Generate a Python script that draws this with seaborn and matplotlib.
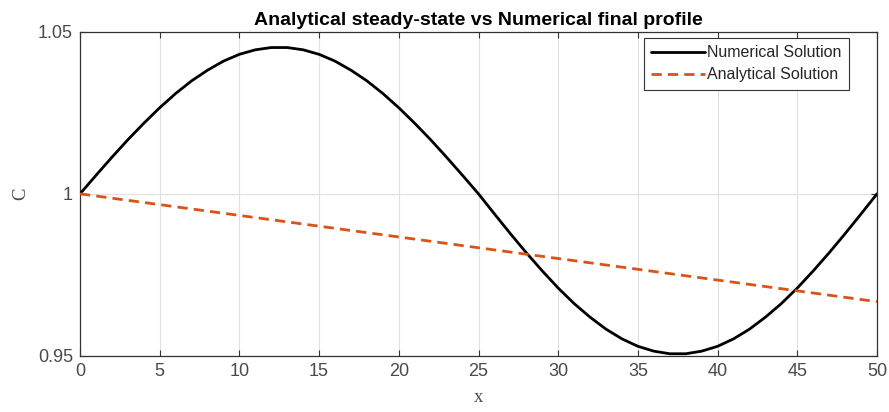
import numpy as np
import pandas as pd
import matplotlib
matplotlib.use("Agg")
import matplotlib.pyplot as plt
import seaborn as sns

# ---- data ----
x_num = list(range(0, 51))
c_num = [1.0000, 1.0057, 1.0113, 1.0167, 1.0218, 1.0266, 1.0310, 1.0349, 1.0382, 1.0410,
         1.0431, 1.0445, 1.0452, 1.0452, 1.0445, 1.0431, 1.0410, 1.0382, 1.0349, 1.0310,
         1.0266, 1.0218, 1.0167, 1.0113, 1.0057, 1.0000, 0.9938, 0.9877, 0.9818, 0.9762,
         0.9709, 0.9661, 0.9619, 0.9582, 0.9552, 0.9529, 0.9514, 0.9506, 0.9506, 0.9514,
         0.9529, 0.9552, 0.9582, 0.9619, 0.9661, 0.9709, 0.9762, 0.9818, 0.9877, 0.9938,
         1.0000]
x_ana = [0, 50]
c_ana = [1.0000, 0.9667]

x_ticks = [0, 5, 10, 15, 20, 25, 30, 35, 40, 45, 50]
y_ticks = [0.95, 1.0, 1.05]
y_tick_labels = ["0.95", "1", "1.05"]

title = "Analytical steady-state vs Numerical final profile"
series_names = ["Numerical Solution", "Analytical Solution"]

# ---- plotting ----
sns.set_theme(style="white")
plt.rcParams['font.family'] = ['Liberation Sans', 'DejaVu Sans']

fig = plt.figure(figsize=(8.89, 4.12), dpi=100)
ax = fig.add_axes([80/889, 1 - 355.7/412, (877 - 80)/889, (355.7 - 32)/412])

df_num = pd.DataFrame({"x": x_num, "C": c_num})
df_ana = pd.DataFrame({"x": x_ana, "C": c_ana})

sns.lineplot(data=df_num, x="x", y="C", ax=ax, color="black", linewidth=2.0,
             label=series_names[0], zorder=3)
sns.lineplot(data=df_ana, x="x", y="C", ax=ax, color="#D95319", linewidth=2.0,
             linestyle="--", label=series_names[1], zorder=3)
ax.lines[0].set_solid_joinstyle("round")
ax.lines[1].set_dashes([3.7, 2.2])

ax.set_xlim(0, 50)
ax.set_ylim(0.95, 1.05)
ax.set_xticks(x_ticks)
ax.set_xticklabels([str(t) for t in x_ticks])
ax.set_yticks(y_ticks)
ax.set_yticklabels(y_tick_labels)

ax.grid(True, color="#e0e0e0", linewidth=0.8)
ax.set_axisbelow(True)

for s in ax.spines.values():
    s.set_color("#333333")
    s.set_linewidth(0.9)
    s.set_visible(True)

ax.tick_params(axis="both", which="both", direction="in", length=4, width=0.8,
               color="#333333", labelcolor="#4a4a4a", labelsize=13,
               top=True, right=True, bottom=True, left=True)
ax.tick_params(axis="x", pad=5)
ax.tick_params(axis="y", pad=5)

ax.set_xlabel("x", family="Liberation Serif", fontsize=13.5, color="#4a4a4a", labelpad=7)
ax.set_ylabel("C", family="Liberation Serif", fontsize=13.5, color="#4a4a4a", labelpad=6)
ax.set_title(title, fontsize=14, fontweight="bold", color="black", pad=5)

leg = ax.legend(loc="upper right", bbox_to_anchor=((849 - 80) / 797, (355.7 - 38) / 323.7),
                fontsize=11.5,
                frameon=True, fancybox=False, framealpha=1, edgecolor="#333333",
                handlelength=3.4, handletextpad=0.15, borderpad=0.45,
                labelspacing=0.45, borderaxespad=0.0)
leg.get_frame().set_linewidth(0.8)

fig.savefig("out.png", dpi=100)
